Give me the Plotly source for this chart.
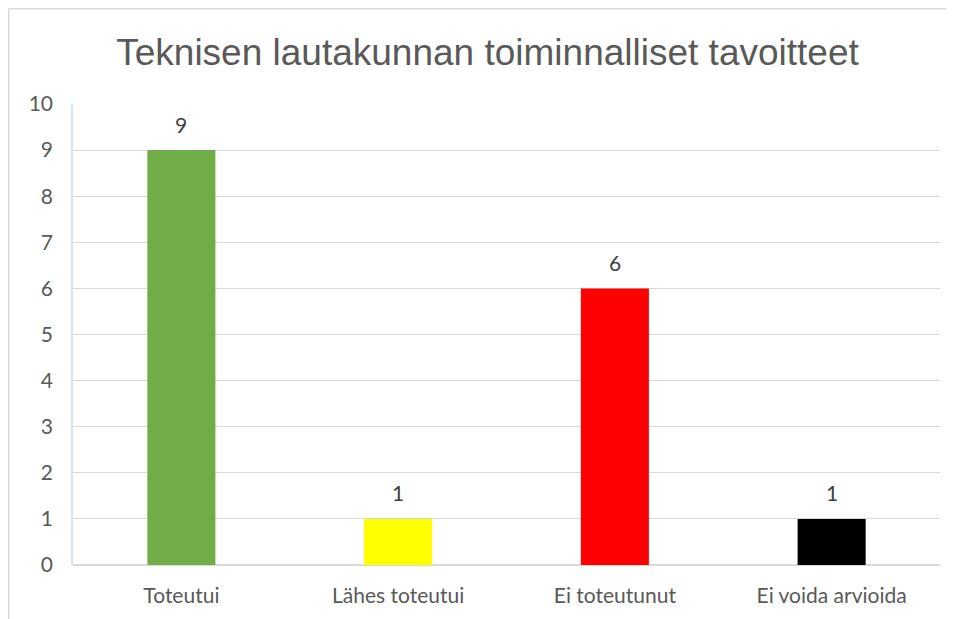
import plotly.graph_objects as go

categories = ["Toteutui", "Lähes toteutui", "Ei toteutunut", "Ei voida arvioida"]
values = [9, 1, 6, 1]
colors = ["#70AD47", "#FFFF00", "#FF0000", "#000000"]
y_ticks = list(range(0, 11))

# page has an 8px body margin, so the figure is drawn at (8, 8)
W, H = 946, 611
L, R, T, B = 65, 14, 96, 54
pw, ph = W - L - R, H - T - B
FONT = "Lato, Open Sans, sans-serif"

fig = go.Figure(go.Bar(
    x=categories, y=values, marker=dict(color=colors, line=dict(width=0)),
    width=0.314, hoverinfo="x+y",
))

for c, v in zip(categories, values):
    fig.add_annotation(x=c, y=v, text=str(v), showarrow=False, yanchor="middle",
                       yshift=26, font=dict(family=FONT, size=21, color="#404040"))

fig.update_layout(
    width=W, height=H, margin=dict(l=L, r=R, t=T, b=B),
    paper_bgcolor="white", plot_bgcolor="white",
    title=dict(text="Teknisen lautakunnan toiminnalliset tavoitteet",
               x=479.5 / W, xanchor="center", xref="container",
               y=1 - 44 / H, yanchor="middle", yref="container",
               font=dict(family="Liberation Sans, Arial, sans-serif", size=37, color="#595959")),
    showlegend=False,
    yaxis=dict(range=[0, 10], tickvals=y_ticks, showgrid=True, gridcolor="#D9D9D9", gridwidth=1.3,
               zeroline=True, zerolinecolor="#D9D9D9", zerolinewidth=1.5,
               showline=True, linecolor="#D6E4F2", linewidth=1.5, ticks="",
               tickfont=dict(family=FONT, size=21, color="#595959"),
               ticklabelstandoff=14),
    xaxis=dict(showgrid=False, showline=False, ticks="",
               tickfont=dict(family=FONT, size=21, color="#595959"),
               ticklabelstandoff=16),
    shapes=[
        dict(type="line", xref="paper", yref="paper",
             x0=(0.75 - L) / pw, x1=(0.75 - L) / pw, y0=-(B + 5) / ph, y1=1 + (T - 0.75) / ph,
             line=dict(color="#D9D9D9", width=1.5), layer="below"),
        dict(type="line", xref="paper", yref="paper",
             x0=(0.75 - L) / pw, x1=(W + 5 - L) / pw, y0=1 + (T - 0.75) / ph, y1=1 + (T - 0.75) / ph,
             line=dict(color="#D9D9D9", width=1.5), layer="below"),
    ],
)

fig.write_html("out.html")
